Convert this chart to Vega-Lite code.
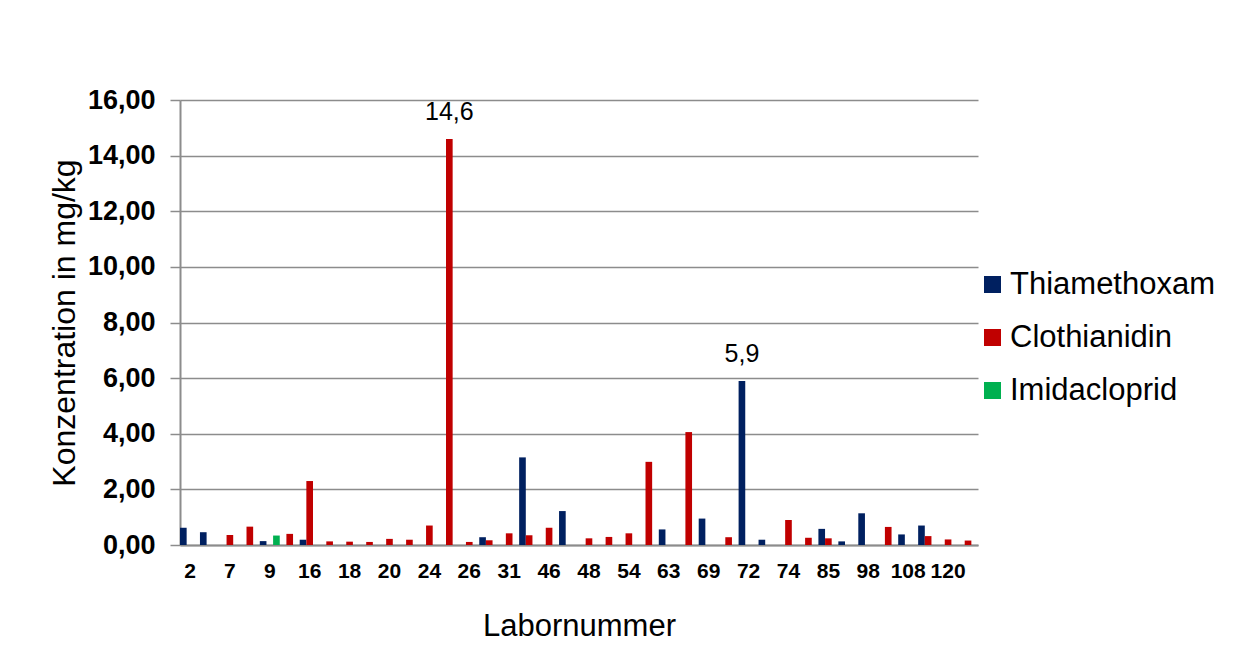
{
  "$schema": "https://vega.github.io/schema/vega-lite/v6.json",
  "autosize": "none",
  "width": 798,
  "height": 445,
  "padding": {"left": 180, "top": 100, "right": 260, "bottom": 116},
  "background": "white",
  "config": {
    "font": "Liberation Sans",
    "view": {"stroke": null},
    "locale": {"number": {"decimal": ",", "thousands": ".", "grouping": [3], "currency": ["", " €"]}}
  },
  "data": {
    "values": [
      {"lab": "2", "substance": "Thiamethoxam", "value": 0.62},
      {"lab": "5", "substance": "Thiamethoxam", "value": 0.46},
      {"lab": "7", "substance": "Clothianidin", "value": 0.36},
      {"lab": "8", "substance": "Clothianidin", "value": 0.66},
      {"lab": "9", "substance": "Thiamethoxam", "value": 0.14},
      {"lab": "9", "substance": "Imidacloprid", "value": 0.34},
      {"lab": "12", "substance": "Clothianidin", "value": 0.4},
      {"lab": "16", "substance": "Thiamethoxam", "value": 0.19},
      {"lab": "16", "substance": "Clothianidin", "value": 2.3},
      {"lab": "17", "substance": "Clothianidin", "value": 0.13},
      {"lab": "18", "substance": "Clothianidin", "value": 0.12},
      {"lab": "19", "substance": "Clothianidin", "value": 0.11},
      {"lab": "20", "substance": "Clothianidin", "value": 0.22},
      {"lab": "22", "substance": "Clothianidin", "value": 0.19},
      {"lab": "24", "substance": "Clothianidin", "value": 0.7},
      {"lab": "25", "substance": "Clothianidin", "value": 14.6},
      {"lab": "26", "substance": "Clothianidin", "value": 0.11},
      {"lab": "28", "substance": "Thiamethoxam", "value": 0.28},
      {"lab": "28", "substance": "Clothianidin", "value": 0.17},
      {"lab": "31", "substance": "Clothianidin", "value": 0.42},
      {"lab": "40", "substance": "Thiamethoxam", "value": 3.15},
      {"lab": "40", "substance": "Clothianidin", "value": 0.35},
      {"lab": "46", "substance": "Clothianidin", "value": 0.62},
      {"lab": "47", "substance": "Thiamethoxam", "value": 1.22},
      {"lab": "48", "substance": "Clothianidin", "value": 0.24},
      {"lab": "51", "substance": "Clothianidin", "value": 0.29},
      {"lab": "54", "substance": "Clothianidin", "value": 0.42},
      {"lab": "60", "substance": "Clothianidin", "value": 2.99},
      {"lab": "63", "substance": "Thiamethoxam", "value": 0.56},
      {"lab": "66", "substance": "Clothianidin", "value": 4.06},
      {"lab": "69", "substance": "Thiamethoxam", "value": 0.95},
      {"lab": "71", "substance": "Clothianidin", "value": 0.28},
      {"lab": "72", "substance": "Thiamethoxam", "value": 5.9},
      {"lab": "73", "substance": "Thiamethoxam", "value": 0.19},
      {"lab": "74", "substance": "Clothianidin", "value": 0.9},
      {"lab": "80", "substance": "Clothianidin", "value": 0.26},
      {"lab": "85", "substance": "Thiamethoxam", "value": 0.58},
      {"lab": "85", "substance": "Clothianidin", "value": 0.24},
      {"lab": "90", "substance": "Thiamethoxam", "value": 0.13},
      {"lab": "98", "substance": "Thiamethoxam", "value": 1.14},
      {"lab": "104", "substance": "Clothianidin", "value": 0.65},
      {"lab": "108", "substance": "Thiamethoxam", "value": 0.38},
      {"lab": "115", "substance": "Thiamethoxam", "value": 0.7},
      {"lab": "115", "substance": "Clothianidin", "value": 0.32},
      {"lab": "120", "substance": "Clothianidin", "value": 0.2},
      {"lab": "125", "substance": "Clothianidin", "value": 0.16}
    ]
  },
  "encoding": {
    "x": {
      "field": "lab",
      "type": "nominal",
      "sort": null,
      "scale": {
        "domain": ["2","5","7","8","9","12","16","17","18","19","20","22","24","25","26","28","31","40","46","47","48","51","54","60","63","66","69","71","72","73","74","80","85","90","98","104","108","115","120","125"],
        "paddingInner": 0,
        "paddingOuter": 0
      },
      "axis": {
        "title": "Labornummer",
        "values": ["2","7","9","16","18","20","24","26","31","46","48","54","63","69","72","74","85","98","108","120"],
        "labelAngle": 0,
        "labelFontSize": 21,
        "labelFontWeight": "bold",
        "labelColor": "#000000",
        "labelPadding": 15,
        "ticks": false,
        "tickSize": 0,
        "domainColor": "#8c8c8c",
        "domainWidth": 2,
        "grid": false,
        "titleFontSize": 31,
        "titleFontWeight": "normal",
        "titleColor": "#000000",
        "titlePadding": 30
      }
    },
    "xOffset": {
      "field": "substance",
      "type": "nominal",
      "scale": {"domain": ["Thiamethoxam", "Clothianidin", "Imidacloprid"], "paddingInner": 0, "paddingOuter": 0}
    },
    "y": {
      "field": "value",
      "type": "quantitative",
      "scale": {"domain": [0, 16], "nice": false},
      "axis": {
        "title": "Konzentration in mg/kg",
        "values": [0, 2, 4, 6, 8, 10, 12, 14, 16],
        "format": ".2f",
        "labelFontSize": 27,
        "labelFontWeight": "bold",
        "labelColor": "#000000",
        "labelPadding": 15,
        "tickSize": 10,
        "tickColor": "#8c8c8c",
        "tickWidth": 1.5,
        "domainColor": "#8c8c8c",
        "domainWidth": 2,
        "grid": true,
        "gridColor": "#8c8c8c",
        "gridWidth": 1.5,
        "titleFontSize": 32,
        "titleFontWeight": "normal",
        "titleColor": "#000000",
        "titlePadding": 6
      }
    }
  },
  "layer": [
    {
      "mark": {"type": "bar"},
      "encoding": {
        "color": {
          "field": "substance",
          "type": "nominal",
          "scale": {"domain": ["Thiamethoxam", "Clothianidin", "Imidacloprid"], "range": ["#002060", "#C00000", "#00B050"]},
          "legend": {
            "title": null,
            "orient": "none",
            "legendX": 797,
            "legendY": 169,
            "symbolType": "square",
            "symbolSize": 289,
            "symbolStrokeWidth": 0,
            "labelFontSize": 31,
            "labelColor": "#000000",
            "labelOffset": 2,
            "rowPadding": 21,
            "labelLimit": 400
          }
        }
      }
    },
    {
      "transform": [{"filter": "datum.value > 5"}],
      "mark": {"type": "text", "dy": -19, "baseline": "alphabetic", "fontSize": 25, "color": "#000000"},
      "encoding": {
        "text": {"field": "value", "type": "quantitative", "format": ".1f"}
      }
    }
  ]
}
